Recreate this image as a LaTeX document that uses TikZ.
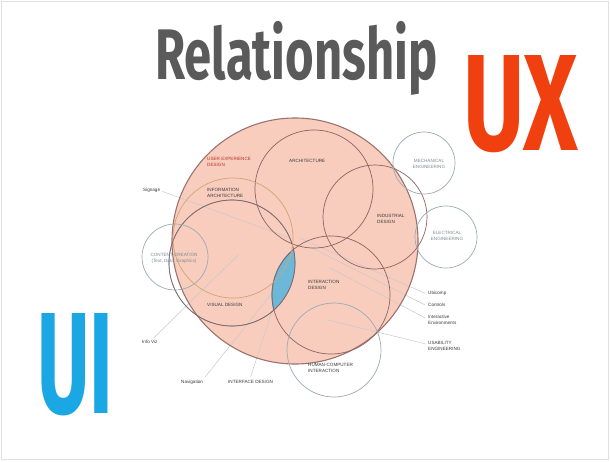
\documentclass[tikz,border=0pt]{standalone}
\usepackage{fontspec}
\setmainfont{Liberation Sans}
\newfontfamily\bigfont{Fira Sans}
\definecolor{pinkfill}{HTML}{F8CDBE}
\definecolor{brownline}{HTML}{8C6262}
\definecolor{tanline}{HTML}{D2A56E}
\definecolor{greyline}{HTML}{9DAAB3}
\definecolor{leader}{HTML}{C9C9C9}
\definecolor{lensblue}{HTML}{6DB8D9}
\definecolor{lenslin}{HTML}{4F8FB0}
\definecolor{titlegray}{HTML}{5A5A5A}
\definecolor{uxred}{HTML}{F1400F}
\definecolor{uiblue}{HTML}{1BA6E4}
\definecolor{labtxt}{HTML}{3A3A3A}
\definecolor{labred}{HTML}{B8322A}
\definecolor{labgrey}{HTML}{7F8A92}
\tikzset{
  brcirc/.style={draw=brownline, line width=0.7pt},
  grcirc/.style={draw=greyline, line width=0.7pt},
  tancirc/.style={draw=tanline, line width=0.7pt},
  lab/.style={font=\fontsize{4.6}{5.8}\selectfont, text=labtxt, inner sep=0pt, anchor=north west, align=left},
  labc/.style={font=\fontsize{4.6}{5.8}\selectfont, text=labgrey, inner sep=0pt, anchor=north, align=center},
  lead/.style={draw=leader, line width=0.5pt}
}
\begin{document}
\begin{tikzpicture}[x=1pt,y=-1pt]
\useasboundingbox (0,0) rectangle (610,461);
\fill[white] (0,0) rectangle (610,461);
\draw[draw=black!12, line width=0.8pt] (1.5,1.5) rectangle (608.5,459.5);
% big UX circle
\coordinate (ux) at (295,241);
\fill[pinkfill] (ux) circle[radius=123pt];
% coordinates of circles
\coordinate (arch) at (314,189);
\coordinate (ind) at (375,217);
\coordinate (mech) at (424,163);
\coordinate (elec) at (446,237);
\coordinate (ia) at (233,238);
\coordinate (vis) at (232,263);
\coordinate (cc) at (175,257);
\coordinate (inter) at (331,295);
\coordinate (hci) at (334,350);
% blue lens
\begin{scope}
  \clip (vis) circle[radius=63pt];
  \fill[lensblue] (inter) circle[radius=59pt];
\end{scope}
% leader lines
\coordinate (p1) at (290,238);
\coordinate (p2) at (238,255);
\coordinate (p3) at (273,292);
\coordinate (p4) at (273,308);
\coordinate (p5) at (300,238);
\coordinate (p6) at (312,248);
\coordinate (p7) at (330,268);
\coordinate (p8) at (328,320);
\node[lab] (signage) at (143,188) {Signage};
\node[lab] (infoviz) at (142,340) {Info Viz};
\node[lab] (nav) at (181,380) {Navigation};
\node[lab] (ifd) at (228,380) {INTERFACE DESIGN};
\node[lab] (ubi) at (428,291) {Ubicomp};
\node[lab] (ctrl) at (428,303) {Controls};
\node[lab] (ienv) at (428,315) {Interactive\\Environments};
\node[lab] (usab) at (428,341) {USABILITY\\ENGINEERING};
\draw[lead] (signage.east) ++(2,1) -- (p1);
\draw[lead] (infoviz.north east) ++(-4,-2) -- (p2);
\draw[lead] (nav.north east) ++(2,-3) -- (p3);
\draw[lead] (ifd.north) ++(0,-3) -- (p4);
\draw[lead] (ubi.west) ++(-3,0) -- (p5);
\draw[lead] (ctrl.west) ++(-3,0) -- (p6);
\draw[lead] (ienv.west) ++(-3,-2) -- (p7);
\draw[lead] (usab.west) ++(-3,-2) -- (p8);
% outlines
\draw[draw=lenslin, line width=0.6pt] (vis) circle[radius=63pt];
\begin{scope}
  \clip (vis) circle[radius=63pt];
  \draw[draw=lenslin, line width=0.9pt] (inter) circle[radius=59pt];
\end{scope}
\draw[draw=brownline!85!pinkfill, line width=1.1pt] (ux) circle[radius=123pt];
\draw[brcirc] (arch) circle[radius=59pt];
\draw[brcirc] (ind) circle[radius=52pt];
\draw[brcirc] (vis) circle[radius=63pt];
\draw[brcirc] (inter) circle[radius=59pt];
\draw[tancirc] (ia) circle[radius=60pt];
\draw[grcirc] (mech) circle[radius=31pt];
\draw[grcirc] (elec) circle[radius=31pt];
\draw[grcirc] (cc) circle[radius=33pt];
\draw[grcirc] (hci) circle[radius=47pt];
% labels
\node[lab, text=labred] (uxd) at (207,157) {USER EXPERIENCE\\DESIGN};
\node[lab] (ial) at (207,188) {INFORMATION\\ARCHITECTURE};
\node[lab] (archl) at (289,159) {ARCHITECTURE};
\node[labc] (mechl) at (429,159) {MECHANICAL\\ENGINEERING};
\node[lab] (indl) at (377,214) {INDUSTRIAL\\DESIGN};
\node[labc] (elecl) at (447,231) {ELECTRICAL\\ENGINEERING};
\node[labc] (ccl) at (174,253) {CONTENT CREATION\\(Text, Data, Graphics)};
\node[lab] (visl) at (207,303) {VISUAL DESIGN};
\node[lab] (interl) at (308,280) {INTERACTION\\DESIGN};
\node[lab] (hcil) at (308,363) {HUMAN-COMPUTER\\INTERACTION};
% big text
\node[inner sep=0pt, anchor=north west, text=titlegray] (title) at (155,21)
  {\resizebox*{282pt}{74pt}{\bigfont\bfseries Relationship}};
\node[inner sep=0pt, anchor=north west, text=uxred] (uxt) at (463,55)
  {\resizebox{115pt}{95pt}{\bigfont\bfseries UX}};
\node[inner sep=0pt, anchor=north west, text=uiblue] (uit) at (37,313)
  {\resizebox{76pt}{100pt}{\bigfont\bfseries UI}};
\end{tikzpicture}
\end{document}
